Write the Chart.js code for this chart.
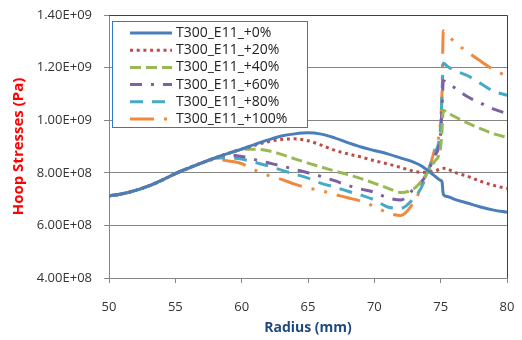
<!DOCTYPE html>
<html><head><meta charset="utf-8">
<script src="https://cdn.jsdelivr.net/npm/chart.js@4/dist/chart.umd.min.js"></script>
<style>html,body{margin:0;padding:0;background:#fff}canvas{display:block}</style>
</head><body>
<canvas id="c" width="522" height="340"></canvas>
<script>
const radius = [50,51,52,53,54,55,56,57,58,59,60,61,62,63,64,65,66,67,68,69,70,71,72,73,73.5,74,74.5,75,75.1,75.2,75.5,76,77,78,79,80];
const labels = ['T300_E11_+0%','T300_E11_+20%','T300_E11_+40%','T300_E11_+60%','T300_E11_+80%','T300_E11_+100%'];
const stress0   = [7.12e8,7.20e8,7.33e8,7.50e8,7.72e8,7.97e8,8.18e8,8.38e8,8.57e8,8.74e8,8.90e8,9.08e8,9.25e8,9.40e8,9.48e8,9.52e8,9.47e8,9.33e8,9.15e8,8.98e8,8.85e8,8.72e8,8.56e8,8.40e8,8.28e8,8.10e8,7.90e8,7.71e8,7.66e8,7.18e8,7.10e8,7.00e8,6.85e8,6.70e8,6.58e8,6.50e8];
const stress20  = [7.12e8,7.20e8,7.33e8,7.50e8,7.72e8,7.97e8,8.18e8,8.38e8,8.57e8,8.74e8,8.90e8,9.05e8,9.18e8,9.27e8,9.29e8,9.22e8,9.05e8,8.86e8,8.72e8,8.60e8,8.46e8,8.34e8,8.20e8,8.06e8,8.02e8,8.02e8,8.06e8,8.15e8,8.17e8,8.17e8,8.15e8,8.03e8,7.87e8,7.68e8,7.52e8,7.40e8];
const stress40  = [7.12e8,7.20e8,7.33e8,7.50e8,7.72e8,7.97e8,8.18e8,8.38e8,8.57e8,8.74e8,8.88e8,8.90e8,8.84e8,8.70e8,8.53e8,8.37e8,8.22e8,8.07e8,7.93e8,7.78e8,7.60e8,7.42e8,7.25e8,7.40e8,7.65e8,8.00e8,8.40e8,9.00e8,9.60e8,1.038e9,1.030e9,1.015e9,9.90e8,9.68e8,9.48e8,9.35e8];
const stress60  = [7.12e8,7.20e8,7.33e8,7.50e8,7.72e8,7.97e8,8.18e8,8.38e8,8.57e8,8.68e8,8.62e8,8.50e8,8.38e8,8.26e8,8.13e8,8.00e8,7.86e8,7.70e8,7.52e8,7.38e8,7.26e8,7.05e8,6.97e8,7.40e8,7.62e8,8.00e8,8.60e8,9.50e8,1.05e9,1.15e9,1.14e9,1.125e9,1.09e9,1.065e9,1.042e9,1.025e9];
const stress80  = [7.12e8,7.20e8,7.33e8,7.50e8,7.72e8,7.97e8,8.18e8,8.38e8,8.55e8,8.57e8,8.52e8,8.40e8,8.26e8,8.10e8,7.95e8,7.80e8,7.60e8,7.46e8,7.30e8,7.15e8,6.97e8,6.70e8,6.65e8,7.05e8,7.40e8,8.00e8,8.70e8,9.80e8,1.10e9,1.217e9,1.205e9,1.19e9,1.17e9,1.14e9,1.11e9,1.095e9];
const stress100 = [7.12e8,7.20e8,7.33e8,7.50e8,7.72e8,7.97e8,8.18e8,8.38e8,8.50e8,8.45e8,8.35e8,8.10e8,7.90e8,7.75e8,7.57e8,7.42e8,7.32e8,7.18e8,7.05e8,6.92e8,6.72e8,6.48e8,6.38e8,6.90e8,7.40e8,8.00e8,8.80e8,1.00e9,1.10e9,1.34e9,1.325e9,1.30e9,1.26e9,1.225e9,1.192e9,1.168e9];
const allStress = [stress0,stress20,stress40,stress60,stress80,stress100];
const colors = ['#4A7EBB','#BE4B48','#98B954','#7D60A0','#46AAC5','#F0893E'];
const dashes = [[],[3,3.7],[11,5],[12,9,3,9],[13,9],[24,10,3,10,3,10]];

const datasets = allStress.map((vals,k)=>({
  label: labels[k],
  data: radius.map((r,i)=>({x:r,y:vals[i]})),
  borderColor: colors[k],
  backgroundColor: colors[k],
  borderWidth: 3,
  borderDash: dashes[k],
  pointRadius: 0,
  fill: false,
  cubicInterpolationMode: 'monotone'
}));

const framePlugin = {
  id:'frame',
  beforeDatasetsDraw(chart){
    const a = chart.chartArea, c = chart.ctx;
    c.save(); c.strokeStyle='#404040'; c.lineWidth=1;
    c.beginPath();
    c.moveTo(a.left, Math.round(a.top)+0.5); c.lineTo(Math.round(a.right)+0.5, Math.round(a.top)+0.5);
    c.lineTo(Math.round(a.right)+0.5, a.bottom);
    c.stroke(); c.restore();
  }
};
const legendPlugin = {
  id:'boxLegend',
  afterDraw(chart){
    const c = chart.ctx;
    c.save();
    c.fillStyle='#fff'; c.fillRect(112,21,195,106);
    c.strokeStyle='#2E7BC4'; c.lineWidth=1; c.strokeRect(112.5,21.5,195,106);
    c.font='14px "Open Sans"'; c.textBaseline='middle'; c.textAlign='left';
    chart.data.datasets.forEach((d,i)=>{
      const y = 33 + i*17.2;
      c.strokeStyle=d.borderColor; c.lineWidth=3; c.setLineDash(d.borderDash);
      c.beginPath(); c.moveTo(130,y); c.lineTo(172,y); c.stroke();
      c.setLineDash([]);
      c.fillStyle='#222'; c.fillText(d.label,176,y);
    });
    c.restore();
  }
};

new Chart(document.getElementById('c'),{
  type:'line',
  data:{datasets},
  plugins:[framePlugin,legendPlugin],
  options:{
    responsive:false, animation:false,
    layout:{padding:{top:15,right:15,left:0,bottom:0}},
    plugins:{legend:{display:false},tooltip:{enabled:false}},
    scales:{
      x:{type:'linear',min:50,max:80,
        afterFit(s){s.height=62;s.paddingLeft=0;s.paddingRight=0;},
        ticks:{stepSize:5,color:'#333',font:{family:'Open Sans',size:13},padding:16},
        grid:{drawOnChartArea:false,tickLength:5,color:'#868686'},
        border:{color:'#868686'},
        title:{display:true,text:'Radius (mm)',color:'#1F497D',font:{family:'Open Sans',size:14,weight:'bold'},padding:{top:0,bottom:4}}
      },
      y:{min:4e8,max:1.4e9,
        afterFit(s){s.width=109;s.paddingTop=0;s.paddingBottom=0;},
        ticks:{stepSize:2e8,color:'#333',font:{family:'Open Sans',size:13},padding:12,
          callback(v){const e=Math.floor(Math.log10(v)+1e-9);const m=v/Math.pow(10,e);return m.toFixed(2)+'E+'+String(e).padStart(2,'0');}},
        grid:{color:'#868686',tickLength:5},
        border:{color:'#868686'},
        title:{display:true,text:'Hoop Stresses (Pa)',color:'#FF0000',font:{family:'Open Sans',size:15,weight:'bold'},padding:{top:10,bottom:0}}
      }
    }
  }
});
</script>
</body></html>
